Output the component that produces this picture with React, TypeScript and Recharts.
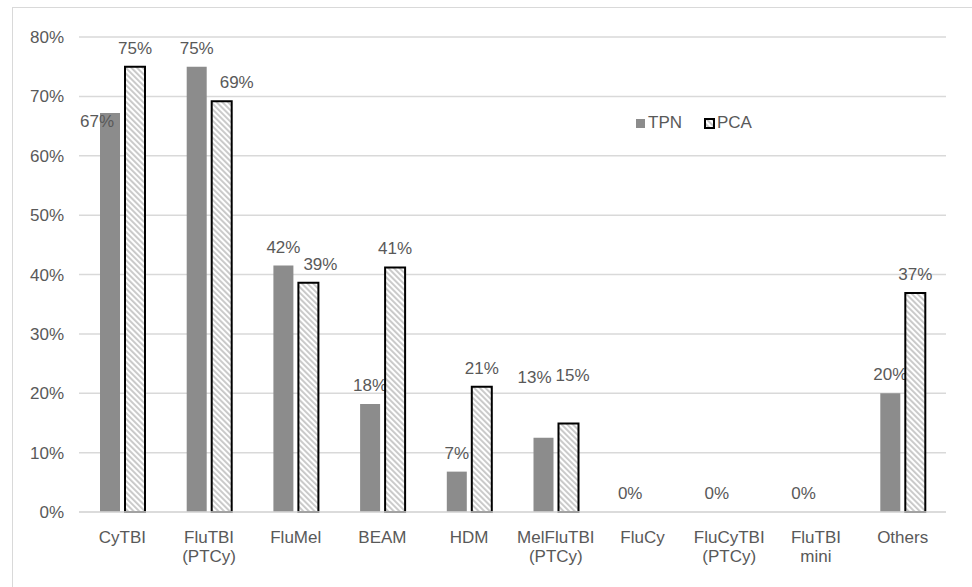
import React from "react";
import { BarChart, Bar, XAxis, YAxis, CartesianGrid, Rectangle } from "recharts";

const categories = [
  "CyTBI",
  "FluTBI\n(PTCy)",
  "FluMel",
  "BEAM",
  "HDM",
  "MelFluTBI\n(PTCy)",
  "FluCy",
  "FluCyTBI\n(PTCy)",
  "FluTBI\nmini",
  "Others",
];
const tpnValues = [67.2, 75.0, 41.5, 18.2, 6.8, 12.5, 0, 0, 0, 20.0];
const pcaValues = [75.0, 69.2, 38.6, 41.2, 21.1, 14.9, null, null, null, 36.9];
const yTicks = [0, 10, 20, 30, 40, 50, 60, 70, 80];

// label nudges where the labels were pushed aside to avoid overlap
const tpnLabelShift: Record<number, [number, number]> = { 0: [-13, 27], 5: [-9, -42] };
const pcaLabelShift: Record<number, [number, number]> = { 1: [15, 0], 2: [12, 0], 5: [4, -30] };

const data = categories.map((c, i) => ({ name: c, TPN: tpnValues[i], PCA: pcaValues[i] }));

const FONT = "'Liberation Sans', Arial, sans-serif";
const TEXT = "#595959";

// draws the bar and its value label together so zero-height bars still get "0%"
function makeShape(shift: Record<number, [number, number]>) {
  return (props: any) => {
    const { x, y, width, height, value, index, fill, stroke, strokeWidth } = props;
    const v = Array.isArray(value) ? value[1] - value[0] : value;
    if (v === null || v === undefined || Number.isNaN(v)) return <g />;
    const [dx, dy] = shift[index] ?? [0, 0];
    return (
      <g>
        {height > 0 && (
          <Rectangle x={x} y={y} width={width} height={height} fill={fill} stroke={stroke} strokeWidth={strokeWidth} />
        )}
        <text
          x={x + width / 2 + dx}
          y={y - 13 + dy}
          textAnchor="middle"
          fill={TEXT}
          fontSize={17}
          fontFamily={FONT}
        >
          {Math.round(v)}%
        </text>
      </g>
    );
  };
}

function XTick({ x, y, payload }: any) {
  const lines = String(payload.value).split("\n");
  return (
    <text x={x} y={y + 23} textAnchor="middle" fill={TEXT} fontSize={17} fontFamily={FONT}>
      {lines.map((l, i) => (
        <tspan key={i} x={x} dy={i === 0 ? 0 : 19}>
          {l}
        </tspan>
      ))}
    </text>
  );
}

function LegendBox() {
  return (
    <div
      style={{
        position: "absolute",
        left: 636,
        top: 113,
        display: "flex",
        alignItems: "center",
        fontFamily: FONT,
        fontSize: 17,
        color: TEXT,
      }}
    >
      <span style={{ width: 9, height: 9, background: "#8c8c8c", display: "inline-block", marginRight: 3 }} />
      <span style={{ marginRight: 22 }}>TPN</span>
      <svg width={11} height={11} style={{ marginRight: 2 }}>
        <rect x={1} y={1} width={9} height={9} fill="url(#hatch)" stroke="#000" strokeWidth={2} />
      </svg>
      <span>PCA</span>
    </div>
  );
}

export default function App() {
  return (
    <div style={{ position: "absolute", left: 0, top: 0, width: 972, height: 587, background: "#fff", overflow: "hidden" }}>
      <div
        style={{
          position: "absolute",
          left: 12,
          top: 7,
          width: 980,
          height: 600,
          borderTop: "1.5px solid #d9d9d9",
          borderLeft: "1.5px solid #d9d9d9",
        }}
      />
      <div style={{ position: "absolute", left: 0, top: 0 }}>
        <BarChart
          width={972}
          height={587}
          data={data}
          margin={{ top: 37, right: 26, bottom: 15, left: 0 }}
          barSize={20}
          barGap={5}
        >
          <defs>
            <pattern id="hatch" width={4} height={4} patternUnits="userSpaceOnUse" patternTransform="rotate(-45)">
              <rect width={4} height={4} fill="#ffffff" />
              <rect width={1.9} height={4} fill="#c8c8c8" />
            </pattern>
          </defs>
          <CartesianGrid vertical={false} stroke="#d9d9d9" strokeWidth={1.5} />
          <XAxis
            dataKey="name"
            height={60}
            tickLine={false}
            axisLine={{ stroke: "#d9d9d9", strokeWidth: 1.5 }}
            tick={<XTick />}
            interval={0}
          />
          <YAxis
            width={79}
            domain={[0, 80]}
            ticks={yTicks}
            tickFormatter={(v) => `${v}%`}
            axisLine={false}
            tickLine={false}
            tickSize={0}
            tickMargin={15}
            tick={{ fill: TEXT, fontSize: 17, fontFamily: FONT }}
          />
          <Bar dataKey="TPN" fill="#8c8c8c" isAnimationActive={false} shape={makeShape(tpnLabelShift)} />
          <Bar
            dataKey="PCA"
            fill="url(#hatch)"
            stroke="#000"
            strokeWidth={2}
            isAnimationActive={false}
            shape={makeShape(pcaLabelShift)}
          />
        </BarChart>
      </div>
      <LegendBox />
    </div>
  );
}
